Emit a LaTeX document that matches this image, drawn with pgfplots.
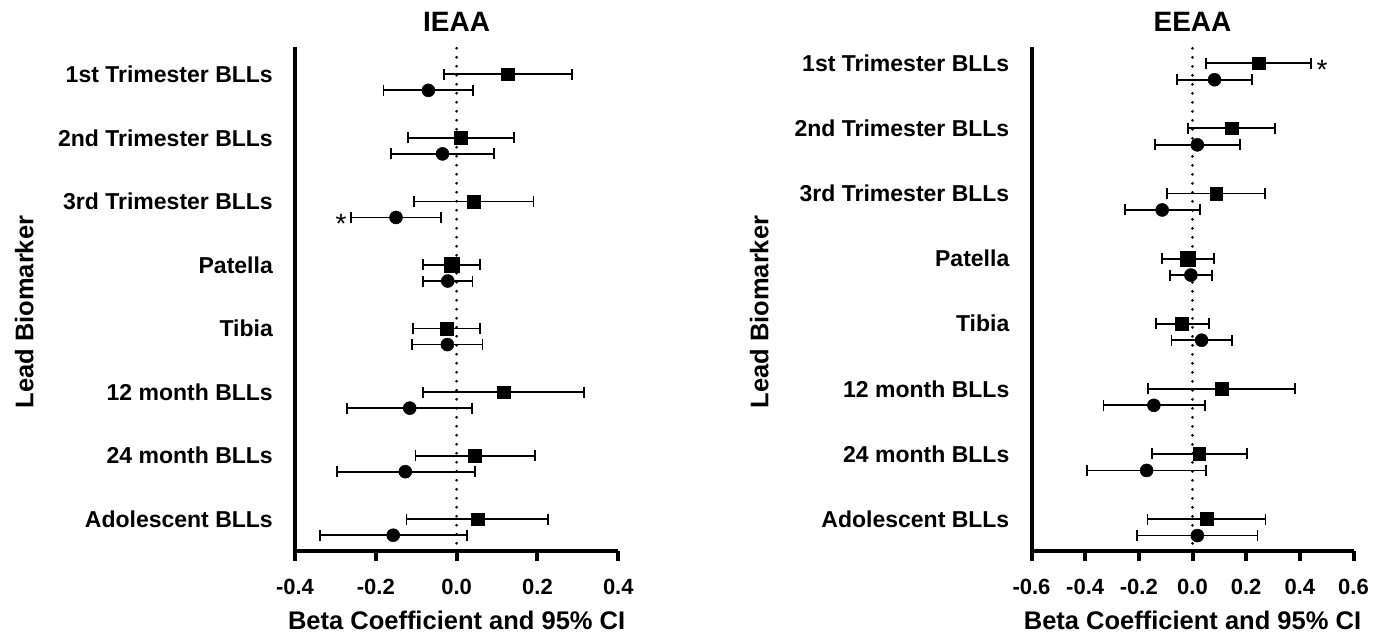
\documentclass[border=0pt]{standalone}
\usepackage{fontspec}
\setmainfont{Liberation Sans}
\usepackage{pgfplots}
\pgfplotsset{compat=1.18}
\usepackage{pgfplotstable}

% columns: y x ep em  (ep = upper CI - beta, em = beta - lower CI)
\pgfplotstableread{
y x ep em
8 0.127 0.159 0.159
7 0.010 0.131 0.130
6 0.042 0.148 0.147
4 -0.025 0.083 0.083
3 0.116 0.199 0.199
2 0.045 0.148 0.147
1 0.052 0.175 0.176
}\ieaasq
\pgfplotstableread{
y x ep em
5 -0.013 0.070 0.070
}\ieaasqp
\pgfplotstableread{
y x ep em
7.748 -0.070 0.110 0.111
6.748 -0.035 0.127 0.127
5.748 -0.150 0.112 0.111
4.748 -0.022 0.061 0.061
3.748 -0.023 0.087 0.088
2.748 -0.116 0.153 0.155
1.748 -0.127 0.172 0.169
0.748 -0.157 0.182 0.182
}\ieaaci
\pgfplotstableread{
y x ep em
8 0.247 0.195 0.197
7 0.146 0.162 0.162
6 0.088 0.183 0.183
4 -0.039 0.099 0.097
3 0.108 0.273 0.273
2 0.025 0.178 0.176
1 0.052 0.220 0.220
}\eeaasq
\pgfplotstableread{
y x ep em
5 -0.018 0.098 0.097
}\eeaasqp
\pgfplotstableread{
y x ep em
7.747 0.082 0.139 0.140
6.747 0.018 0.160 0.159
5.747 -0.113 0.141 0.140
4.747 -0.006 0.079 0.078
3.747 0.034 0.114 0.112
2.747 -0.144 0.190 0.188
1.747 -0.171 0.221 0.223
0.747 0.018 0.224 0.224
}\eeaaci

\pgfplotsset{
  forest/.style={
    scale only axis, height=504pt, anchor=south west,
    axis lines*=left,
    axis line style={line width=4pt, -},
    clip=false,
    tick align=outside,
    xtick style={line width=4pt, black},
    major tick length=10pt,
    ytick={1,2,3,4,5,6,7,8},
    yticklabels={Adolescent BLLs, 24 month BLLs, 12 month BLLs, Tibia, Patella\hspace{6pt}, 3rd Trimester BLLs, 2nd Trimester BLLs, 1st Trimester BLLs},
    ytick style={draw=none},
    yticklabel style={font=\bfseries\fontsize{23}{27}\selectfont, anchor=east, inner sep=0pt, xshift=-12pt},
    xticklabel style={font=\bfseries\fontsize{22}{26}\selectfont, anchor=base, inner sep=0pt, yshift=-33pt},
    xlabel={Beta Coefficient and 95\% CI},
    xlabel style={font=\bfseries\fontsize{25.5}{30}\selectfont, at={(axis description cs:0.5,0)}, anchor=base, inner sep=0pt, yshift=-78pt},
    title style={font=\bfseries\fontsize{28}{32}\selectfont, at={(axis description cs:0.5,1)}, anchor=base, inner sep=0pt, yshift=9pt},
    error bars/error mark=|,
    error bars/error bar style={line width=1.8pt, black},
    error bars/error mark options={mark size=5.5pt, line width=1.8pt, black},
  },
  sq/.style={only marks, mark=square*, mark size=6.35pt, mark options={fill=black, draw=black, line width=0.5pt},
    error bars/x dir=both, error bars/x explicit},
  ci/.style={only marks, mark=*, mark size=6.5pt, mark options={fill=black, draw=black, line width=0.5pt},
    error bars/x dir=both, error bars/x explicit},
}

\begin{document}
\begin{tikzpicture}
\path[use as bounding box] (0,0) rectangle (1386pt,635pt);

\begin{axis}[forest, at={(295pt,84pt)}, width=323.3pt,
  xmin=-0.4, xmax=0.4, ymin=0.5, ymax=8.43,
  xtick={-0.4,-0.2,0,0.2,0.4}, xticklabels={-0.4,-0.2,0.0,0.2,0.4},
  title={IEAA},
  ylabel={Lead Biomarker},
  ylabel style={font=\bfseries\fontsize{25.5}{30}\selectfont, at={(axis description cs:-0.8095,0.474)}, anchor=base, inner sep=0pt, rotate=0},
]
\addplot[line width=3pt, line cap=round, dash pattern=on 0pt off 9pt] coordinates {(0,8.41) (0,0.5)};
\addplot[sq] table[x=x, y=y, x error plus=ep, x error minus=em] {\ieaasq};
\addplot[sq, mark size=7.6pt] table[x=x, y=y, x error plus=ep, x error minus=em] {\ieaasqp};
\addplot[ci] table[x=x, y=y, x error plus=ep, x error minus=em] {\ieaaci};
\node[font=\fontsize{28}{28}\selectfont, anchor=base, yshift=-16pt, inner sep=0pt] at (axis cs:-0.286,5.748) {*};
\end{axis}

\begin{axis}[forest, at={(1031.5pt,84pt)}, width=322pt,
  xmin=-0.6, xmax=0.6, ymin=0.51, ymax=8.25,
  xtick={-0.6,-0.4,-0.2,0,0.2,0.4,0.6}, xticklabels={-0.6,-0.4,-0.2,0.0,0.2,0.4,0.6},
  title={EEAA},
  ylabel={Lead Biomarker},
  ylabel style={font=\bfseries\fontsize{25.5}{30}\selectfont, at={(axis description cs:-0.817,0.474)}, anchor=base, inner sep=0pt, rotate=0},
]
\addplot[line width=3pt, line cap=round, dash pattern=on 0pt off 9pt] coordinates {(0,8.23) (0,0.51)};
\addplot[sq] table[x=x, y=y, x error plus=ep, x error minus=em] {\eeaasq};
\addplot[sq, mark size=7.5pt] table[x=x, y=y, x error plus=ep, x error minus=em] {\eeaasqp};
\addplot[ci] table[x=x, y=y, x error plus=ep, x error minus=em] {\eeaaci};
\node[font=\fontsize{28}{28}\selectfont, anchor=base, yshift=-16pt, inner sep=0pt] at (axis cs:0.483,8) {*};
\end{axis}
\end{tikzpicture}
\end{document}
